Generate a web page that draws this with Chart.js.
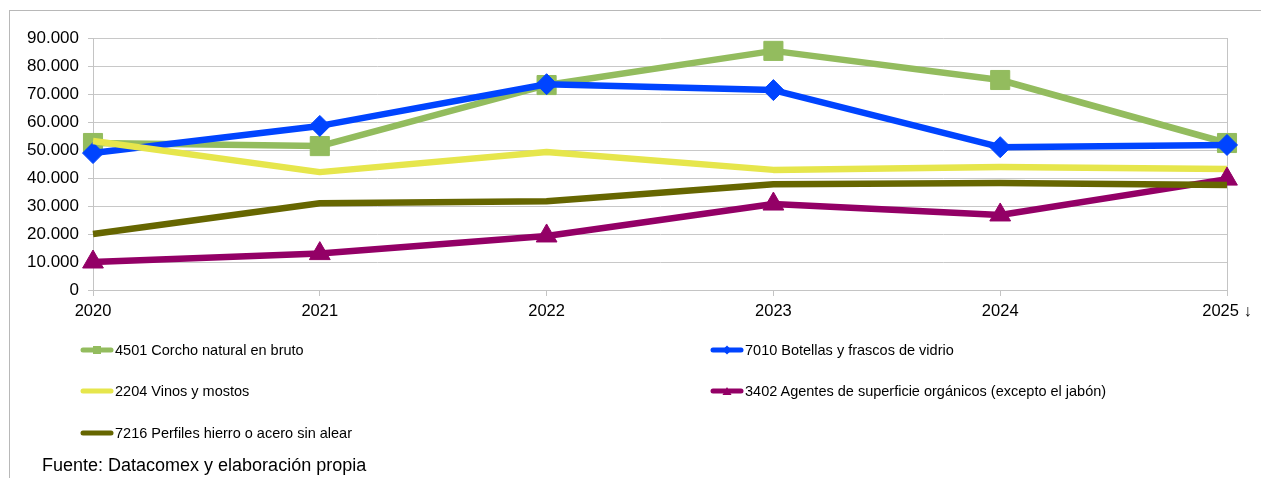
<!DOCTYPE html>
<html><head><meta charset="utf-8">
<script src="https://cdn.jsdelivr.net/npm/chart.js@4/dist/chart.umd.min.js"></script>
<style>
html,body{margin:0;padding:0;background:#fff;}
#wrap{position:relative;width:1261px;height:478px;overflow:hidden;font-family:"Liberation Sans",Arial,sans-serif;}
#c{position:absolute;left:0;top:0;}
#frame{position:absolute;left:9px;top:10px;width:1300px;height:500px;border-top:1.5px solid #b8b8b8;border-left:1.5px solid #b8b8b8;}
.leg{position:absolute;height:20px;font-size:14.5px;color:#000;display:flex;align-items:center;white-space:nowrap;}
.leg svg{margin-right:1px;}
#src{position:absolute;left:42px;top:455px;font-size:18px;color:#000;}
</style></head>
<body>
<div id="wrap">
<div id="frame"></div>
<canvas id="c" width="1261" height="478"></canvas>
<div id="legend"></div>
<div id="src">Fuente: Datacomex y elaboración propia</div>
</div>
<script>
const categories = ["2020", "2021", "2022", "2023", "2024", "2025 ↓"];
const seriesNames = [
  "4501 Corcho natural en bruto",
  "7010 Botellas y frascos de vidrio",
  "2204 Vinos y mostos",
  "3402 Agentes de superficie orgánicos (excepto el jabón)",
  "7216 Perfiles hierro o acero sin alear"
];
const corcho   = [52500, 51400, 73200, 85400, 75000, 52500];
const botellas = [48900, 58600, 73500, 71400, 51000, 51800];
const vinos    = [53200, 42100, 49300, 42900, 43900, 43200];
const agentes  = [10000, 13000, 19300, 30700, 26800, 39600];
const perfiles = [20000, 31000, 31700, 37800, 38200, 37500];
const yTicks = [0, 10000, 20000, 30000, 40000, 50000, 60000, 70000, 80000, 90000];

const colors = ["#93bc5e", "#0044ff", "#e6e64c", "#930066", "#666600"];
const styles = ["rect", "rectRot", false, "triangle", false];
const radii  = [13.5, 10.5, 0, 12, 0];
const values = [corcho, botellas, vinos, agentes, perfiles];
const orders = [5, 4, 3, 2, 1];

const fmt = v => v === 0 ? "0" : String(v).replace(/\B(?=(\d{3})+(?!\d))/g, ".");

Chart.defaults.font.family = "'Liberation Sans', Arial, sans-serif";

const datasets = values.map((vals, i) => ({
  label: seriesNames[i],
  data: vals,
  borderColor: colors[i],
  backgroundColor: colors[i],
  borderWidth: 6.5,
  borderJoinStyle: "round",
  tension: 0,
  pointStyle: styles[i] || "circle",
  pointRadius: radii[i],
  pointHoverRadius: radii[i],
  pointBackgroundColor: colors[i],
  pointBorderColor: colors[i],
  pointBorderWidth: 1,
  order: orders[i],
  clip: false
}));

new Chart(document.getElementById("c"), {
  type: "line",
  data: { labels: categories, datasets },
  options: {
    responsive: false,
    animation: false,
    events: [],
    layout: { padding: { left: 0, right: 34, top: 38, bottom: 0 } },
    plugins: { legend: { display: false }, tooltip: { enabled: false } },
    scales: {
      x: {
        offset: false,
        grid: {
          color: ctx => (ctx.index === 0 || ctx.index === categories.length - 1) ? "#c4c4c4" : "rgba(0,0,0,0)",
          tickColor: "#c4c4c4",
          tickLength: 6,
          lineWidth: 1
        },
        border: { color: "#c4c4c4" },
        ticks: { color: "#000", font: { size: 16.5 }, padding: 6, maxRotation: 0, autoSkip: false },
        afterFit: s => { s.height = 188; }
      },
      y: {
        min: 0, max: 90000,
        afterBuildTicks: s => { s.ticks = yTicks.map(v => ({ value: v })); },
        grid: { color: "#c8c8c8", tickColor: "#c4c4c4", tickLength: 5, lineWidth: 1 },
        border: { color: "#c4c4c4" },
        ticks: { color: "#000", font: { size: 17 }, padding: 9, callback: v => fmt(v) },
        afterFit: s => { s.width = 93; }
      }
    }
  }
});

// legend
const legPos = [[80, 350], [710, 350], [80, 391], [710, 391], [80, 433]];
const legend = document.getElementById("legend");
seriesNames.forEach((name, i) => {
  const c = colors[i];
  let marker = "";
  if (styles[i] === "rect") marker = `<rect x="13" y="3" width="8" height="8" fill="${c}"/>`;
  else if (styles[i] === "rectRot") marker = `<polygon points="17,2.5 21.5,7 17,11.5 12.5,7" fill="${c}"/>`;
  else if (styles[i] === "triangle") marker = `<polygon points="17,3 21.5,11 12.5,11" fill="${c}"/>`;
  const d = document.createElement("div");
  d.className = "leg";
  d.style.left = legPos[i][0] + "px";
  d.style.top = (legPos[i][1] - 10) + "px";
  d.innerHTML = `<svg width="34" height="14"><line x1="3" y1="7" x2="31" y2="7" stroke="${c}" stroke-width="5" stroke-linecap="round"/>${marker}</svg><span>${name}</span>`;
  legend.appendChild(d);
});
</script>
</body></html>
